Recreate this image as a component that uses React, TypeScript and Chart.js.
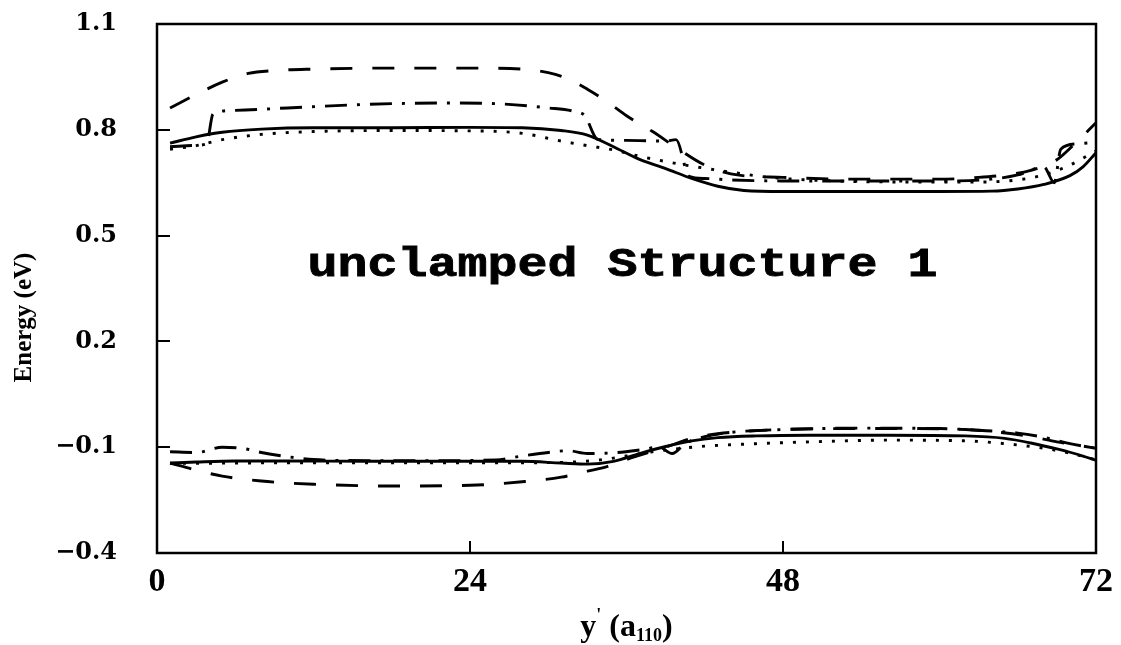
import React, { useEffect, useRef } from "react";
import { Chart, registerables } from "chart.js";

Chart.register(...registerables);

// ---- axes ----
const xTicks = [0, 24, 48, 72];
const yTicks = [-0.4, -0.1, 0.2, 0.5, 0.8, 1.1];
const annotationText = "unclamped Structure 1";
const yTitle = "Energy (eV)";

// ---- upper (conduction) band ----
const solidUpX = [1, 3, 5, 8, 12, 18, 24, 28, 31, 33, 35, 37, 39, 41, 43, 45, 48, 54, 60, 64, 66, 68, 70, 71, 72];
const solidUpY = [0.762, 0.78, 0.793, 0.802, 0.806, 0.806, 0.807, 0.806, 0.798, 0.785, 0.752, 0.716, 0.69, 0.662, 0.64, 0.628, 0.625, 0.625, 0.625, 0.626, 0.632, 0.645, 0.67, 0.695, 0.735];

const dottedUpX = [1, 3, 5, 8, 12, 18, 24, 28, 31, 33, 35, 37, 39, 41, 44, 47, 52, 58, 63, 66, 68, 70, 72];
const dottedUpY = [0.745, 0.755, 0.772, 0.787, 0.795, 0.798, 0.797, 0.79, 0.768, 0.755, 0.743, 0.725, 0.71, 0.697, 0.68, 0.665, 0.655, 0.652, 0.652, 0.658, 0.672, 0.7, 0.74];

const dashedUpX = [1, 3, 5, 7, 9, 12, 18, 24, 28, 30, 31.5, 33, 34.5, 36, 38, 40, 42, 44, 48, 54, 60, 63, 65, 67, 69, 70.5, 72];
const dashedUpY = [0.862, 0.9, 0.935, 0.96, 0.968, 0.972, 0.975, 0.975, 0.972, 0.962, 0.945, 0.915, 0.88, 0.84, 0.795, 0.745, 0.7, 0.675, 0.665, 0.66, 0.66, 0.665, 0.672, 0.685, 0.715, 0.765, 0.82];

const dashDotUpX = [1, 3, 3.8, 4.3, 6, 10, 16, 22, 26, 30, 32, 32.8, 33.8, 36, 39, 39.8, 40.8, 42, 44, 48, 54, 60, 64, 66, 68, 68.8, 69.3, 70.5, 72];
const dashDotUpY = [0.752, 0.756, 0.76, 0.845, 0.855, 0.862, 0.872, 0.876, 0.874, 0.862, 0.852, 0.84, 0.773, 0.77, 0.768, 0.772, 0.668, 0.662, 0.658, 0.655, 0.655, 0.655, 0.66, 0.672, 0.695, 0.65, 0.745, 0.76, 0.765];

// ---- lower (valence) band ----
const solidLoX = [1, 3, 6, 10, 16, 22, 28, 31, 33, 35, 37, 39, 41, 43, 46, 50, 56, 62, 65, 67, 69, 71, 72];
const solidLoY = [-0.145, -0.142, -0.139, -0.139, -0.14, -0.14, -0.14, -0.145, -0.148, -0.14, -0.118, -0.098, -0.082, -0.073, -0.068, -0.066, -0.066, -0.068, -0.075, -0.088, -0.105, -0.125, -0.137];

const dottedLoX = [1, 6, 12, 20, 28, 32, 34, 36, 38, 40, 42, 46, 50, 56, 62, 65, 68, 70, 72];
const dottedLoY = [-0.146, -0.145, -0.144, -0.144, -0.144, -0.142, -0.136, -0.125, -0.113, -0.104, -0.097, -0.09, -0.085, -0.08, -0.082, -0.09, -0.103, -0.117, -0.136];

const dashedLoX = [1, 3, 5, 8, 12, 18, 24, 28, 31, 33, 34.5, 36, 39, 41, 43, 46, 50, 56, 62, 64.6, 67, 69, 71, 72];
const dashedLoY = [-0.145, -0.165, -0.182, -0.196, -0.205, -0.21, -0.208, -0.198, -0.185, -0.168, -0.155, -0.135, -0.1, -0.075, -0.062, -0.053, -0.048, -0.047, -0.05, -0.058, -0.07, -0.085, -0.097, -0.103];

const dashDotLoX = [1, 3, 5, 6.5, 8, 10, 12, 16, 22, 26, 28, 30, 31.5, 33, 35, 37, 38.5, 39.5, 40.5, 42, 44, 48, 54, 60, 63, 66, 68, 70, 72];
const dashDotLoY = [-0.113, -0.115, -0.1, -0.103, -0.115, -0.127, -0.135, -0.138, -0.138, -0.136, -0.125, -0.115, -0.11, -0.118, -0.116, -0.108, -0.1, -0.118, -0.09, -0.07, -0.058, -0.05, -0.046, -0.047, -0.052, -0.06, -0.072, -0.09, -0.103];

const zip = (xs: number[], ys: number[]) => xs.map((x, i) => ({ x, y: ys[i] }));

const STYLE_SOLID: number[] = [];
const STYLE_DOTTED = [3, 10];
const STYLE_DASHED = [22, 20];
const STYLE_DASHDOT = [22, 10, 3, 10];

function makeSet(label: string, xs: number[], ys: number[], dash: number[]) {
  return {
    label,
    data: zip(xs, ys),
    borderColor: "#000",
    borderWidth: 2.9,
    borderDash: dash,
    borderCapStyle: "butt" as const,
    pointRadius: 0,
    fill: false,
    cubicInterpolationMode: "monotone" as const,
  };
}

const decorPlugin = {
  id: "decor",
  afterDraw(chart: any) {
    const { ctx, chartArea: a, scales } = chart;
    const xs = scales.x;
    const ys = scales.y;
    ctx.save();
    ctx.strokeStyle = "#000";
    ctx.fillStyle = "#000";
    // frame
    ctx.lineWidth = 2.5;
    ctx.strokeRect(a.left, a.top, a.right - a.left, a.bottom - a.top);
    // inner ticks
    ctx.lineWidth = 2;
    yTicks.slice(1, -1).forEach((v) => {
      const py = Math.round(ys.getPixelForValue(v));
      ctx.beginPath();
      ctx.moveTo(a.left, py);
      ctx.lineTo(a.left + 13, py);
      ctx.stroke();
    });
    xTicks.slice(1, -1).forEach((v) => {
      const px = Math.round(xs.getPixelForValue(v));
      ctx.beginPath();
      ctx.moveTo(px, a.bottom);
      ctx.lineTo(px, a.bottom - 12);
      ctx.stroke();
    });

    // annotation, placed in data coordinates
    const ax = xs.getPixelForValue(35.7);
    const ay = ys.getPixelForValue(0.415);
    ctx.font = "bold 40px 'Liberation Mono', monospace";
    ctx.textBaseline = "middle";
    ctx.textAlign = "left";
    const w = ctx.measureText(annotationText).width;
    const targetW = 630;
    ctx.save();
    ctx.translate(ax - targetW / 2, ay);
    ctx.scale(targetW / w, 1);
    ctx.lineWidth = 0.8;
    ctx.fillText(annotationText, 0, 0);
    ctx.strokeText(annotationText, 0, 0);
    ctx.restore();

    // y title
    ctx.save();
    ctx.translate(25, (a.top + a.bottom) / 2 + 29);
    ctx.rotate(-Math.PI / 2);
    ctx.font = "bold 25px 'Liberation Serif', serif";
    ctx.textAlign = "center";
    ctx.textBaseline = "middle";
    ctx.fillText(yTitle, 0, 0);
    ctx.restore();

    // x title: y' (a110)
    const big = "bold 32px 'Liberation Serif', serif";
    const small = "bold 18px 'Liberation Serif', serif";
    const parts: [string, string, number][] = [
      ["y", big, 0],
      ["'", small, -15],
      [" (a", big, 0],
      ["110", small, 5],
      [")", big, 0],
    ];
    let total = 0;
    parts.forEach(([t, f]) => {
      ctx.font = f;
      total += ctx.measureText(t).width;
    });
    let cx = (a.left + a.right) / 2 - total / 2;
    const base = 636;
    ctx.textAlign = "left";
    ctx.textBaseline = "alphabetic";
    parts.forEach(([t, f, dy]) => {
      ctx.font = f;
      ctx.fillText(t, cx, base + dy);
      cx += ctx.measureText(t).width;
    });
    ctx.restore();
  },
};

export default function App() {
  const ref = useRef<HTMLCanvasElement | null>(null);

  useEffect(() => {
    document.body.style.margin = "0";
    if (!ref.current) return;
    const chart = new Chart(ref.current, {
      type: "line",
      data: {
        datasets: [
          makeSet("solid upper", solidUpX, solidUpY, STYLE_SOLID),
          makeSet("dotted upper", dottedUpX, dottedUpY, STYLE_DOTTED),
          makeSet("dashed upper", dashedUpX, dashedUpY, STYLE_DASHED),
          makeSet("dash-dot upper", dashDotUpX, dashDotUpY, STYLE_DASHDOT),
          makeSet("solid lower", solidLoX, solidLoY, STYLE_SOLID),
          makeSet("dotted lower", dottedLoX, dottedLoY, STYLE_DOTTED),
          makeSet("dashed lower", dashedLoX, dashedLoY, STYLE_DASHED),
          makeSet("dash-dot lower", dashDotLoX, dashDotLoY, STYLE_DASHDOT),
        ],
      },
      options: {
        animation: false,
        responsive: true,
        maintainAspectRatio: false,
        layout: { padding: { top: 24, right: 25, left: 0, bottom: 0 } },
        plugins: {
          legend: { display: false },
          tooltip: { enabled: false },
        },
        scales: {
          x: {
            type: "linear",
            min: 0,
            max: 72,
            grid: { display: false, drawTicks: false },
            border: { display: false },
            afterBuildTicks: (s: any) => {
              s.ticks = xTicks.map((v) => ({ value: v }));
            },
            afterFit: (s: any) => {
              s.height = 92;
              s.paddingLeft = 0;
              s.paddingRight = 0;
            },
            ticks: {
              padding: 9,
              color: "#000",
              maxRotation: 0,
              font: { family: "'Liberation Serif', serif", size: 34, weight: "bold" },
              callback: (v: any) => String(v),
            },
          },
          y: {
            type: "linear",
            min: -0.4,
            max: 1.1,
            grid: { display: false, drawTicks: false },
            border: { display: false },
            afterBuildTicks: (s: any) => {
              s.ticks = yTicks.map((v) => ({ value: v }));
            },
            afterFit: (s: any) => {
              s.width = 157;
              s.paddingTop = 0;
              s.paddingBottom = 0;
            },
            ticks: {
              padding: 40,
              color: "#000",
              font: { family: "'DejaVu Serif', serif", size: 24, weight: "bold" },
              callback: (v: any) => Number(v).toFixed(1).replace("-", "\u2212"),
            },
          },
        },
      },
      plugins: [decorPlugin],
    });
    return () => chart.destroy();
  }, []);

  return (
    <div style={{ width: 1121, height: 645, position: "relative", background: "#fff" }}>
      <canvas ref={ref} />
    </div>
  );
}
